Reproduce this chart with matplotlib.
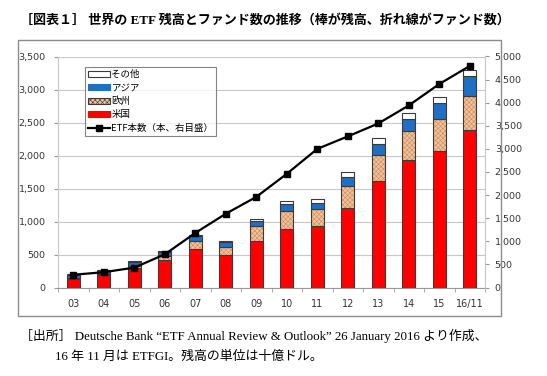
import matplotlib
matplotlib.use("Agg")
import matplotlib.pyplot as plt
import numpy as np
from matplotlib.patches import Rectangle, Patch
from matplotlib.lines import Line2D

categories = ["03", "04", "05", "06", "07", "08", "09", "10", "11", "12", "13", "14", "15", "16/11"]
us     = [135, 185, 295, 415, 580, 495, 705, 885, 925, 1210, 1615, 1925, 2070, 2385]
europe = [15, 20, 30, 55, 130, 125, 220, 280, 270, 330, 395, 440, 485, 515]
asia   = [45, 50, 60, 65, 70, 65, 80, 95, 90, 130, 170, 195, 240, 305]
other  = [8, 10, 10, 15, 15, 25, 40, 55, 60, 80, 80, 80, 90, 85]
etf_count = [276, 331, 430, 718, 1180, 1596, 1960, 2460, 3000, 3270, 3550, 3940, 4404, 4795]

left_ticks = [0, 500, 1000, 1500, 2000, 2500, 3000, 3500]
right_ticks = [0, 500, 1000, 1500, 2000, 2500, 3000, 3500, 4000, 4500, 5000]

plt.rcParams["hatch.linewidth"] = 0.4

CJK = ["Noto Sans CJK JP", "DejaVu Sans"]
SERIF = ["Liberation Serif", "Noto Sans CJK JP"]

RED = "#FF0000"
BLUE = "#1F6FC4"
BEIGE = "#F2C29A"
HATCH = "#C98A5E"
EDGE = "#3a3a3a"

fig = plt.figure(figsize=(5.47, 3.76), dpi=100)
fig.patch.set_facecolor("white")

# chart frame
fig.patches.append(Rectangle((18/547, 1-316/376), 483/547, 276/376, transform=fig.transFigure,
                             fill=False, edgecolor="#8c8c8c", linewidth=1.0, zorder=0))

ax = fig.add_axes([58/547, 1-287.5/376, 427/547, 231/376])
x = np.arange(len(categories))
w = 0.42
us_a = np.array(us); eu_a = np.array(europe); as_a = np.array(asia); ot_a = np.array(other)

ax.bar(x, us_a, w, color=RED, edgecolor=EDGE, linewidth=0.8, zorder=3)
ax.bar(x, eu_a, w, bottom=us_a, color=BEIGE, edgecolor=HATCH, hatch="xxxxxxx", linewidth=0, zorder=3)
ax.bar(x, eu_a, w, bottom=us_a, fill=False, edgecolor=EDGE, linewidth=0.8, zorder=3)
ax.bar(x, as_a, w, bottom=us_a+eu_a, color=BLUE, edgecolor=EDGE, linewidth=0.8, zorder=3)
ax.bar(x, ot_a, w, bottom=us_a+eu_a+as_a, color="white", edgecolor=EDGE, linewidth=0.8, zorder=3)

ax.set_xlim(-0.5, len(categories)-0.5)
ax.set_ylim(0, 3500)
ax.set_yticks(left_ticks)
ax.set_yticklabels([f"{v:,}" for v in left_ticks], fontsize=6.8, color="#333333", family="DejaVu Sans")
ax.set_xticks(x)
ax.set_xticklabels(categories, fontsize=7, color="#333333")
ax.set_xticks(np.arange(-0.5, len(categories), 1), minor=True)
ax.tick_params(axis="x", which="major", length=0, pad=8)
ax.tick_params(axis="x", which="minor", length=3, color="#999999")
ax.tick_params(axis="y", length=3, color="#999999", pad=6)
ax.grid(axis="y", color="#c8c8c8", linewidth=0.8, zorder=0)
ax.spines["top"].set_visible(False)
ax.spines["right"].set_visible(False)
ax.spines["left"].set_color("#c8c8c8")
ax.spines["bottom"].set_color("#999999")

ax2 = ax.twinx()
ax2.plot(x, etf_count, color="black", linewidth=1.6, marker="s", markersize=4.5, zorder=5)
ax2.set_ylim(0, 5000)
ax2.set_yticks(right_ticks)
ax2.set_yticklabels([f"{v:,}" for v in right_ticks], fontsize=6.8, color="#333333", family="DejaVu Sans")
ax2.tick_params(axis="y", length=3, color="#999999", pad=4)
ax2.spines["top"].set_visible(False)
ax2.spines["left"].set_visible(False)
ax2.spines["bottom"].set_visible(False)
ax2.spines["right"].set_color("#c8c8c8")

handles = [
    Patch(facecolor="white", edgecolor=EDGE, linewidth=0.8),
    Patch(facecolor=BLUE, edgecolor=BLUE, linewidth=0.8),
    Patch(facecolor=BEIGE, edgecolor=EDGE, hatch="xxxxxxx", linewidth=0.8),
    Patch(facecolor=RED, edgecolor=RED, linewidth=0.8),
    Line2D([0], [0], color="black", linewidth=1.6, marker="s", markersize=4),
]
labels = ["その他", "アジア", "欧州", "米国", "ETF本数（本、右目盛）"]
leg = ax2.legend(handles, labels, loc="upper left", bbox_to_anchor=(85/547, 1-67/376), bbox_transform=fig.transFigure,
                 prop={"family": CJK, "size": 6.8}, frameon=True, fancybox=False, edgecolor="#666666",
                 borderpad=0.3, labelspacing=0.45, handlelength=2.3, handleheight=0.6, handletextpad=0.2,
                 borderaxespad=0)
leg.get_frame().set_linewidth(0.8)

fig.text(20/547, 1-20/376, "［図表１］ 世界の ETF 残高とファンド数の推移（棒が残高、折れ線がファンド数）",
         family=SERIF, fontsize=9.4, fontweight="bold", va="center", ha="left")
fig.text(20/547, 1-336/376, "［出所］ Deutsche Bank “ETF Annual Review & Outlook” 26 January 2016 より作成、",
         family=SERIF, fontsize=9.3, va="center", ha="left")
fig.text(55/547, 1-357/376, "16 年 11 月は ETFGI。残高の単位は十億ドル。",
         family=SERIF, fontsize=9.3, va="center", ha="left")

fig.savefig("out.png", dpi=100)
